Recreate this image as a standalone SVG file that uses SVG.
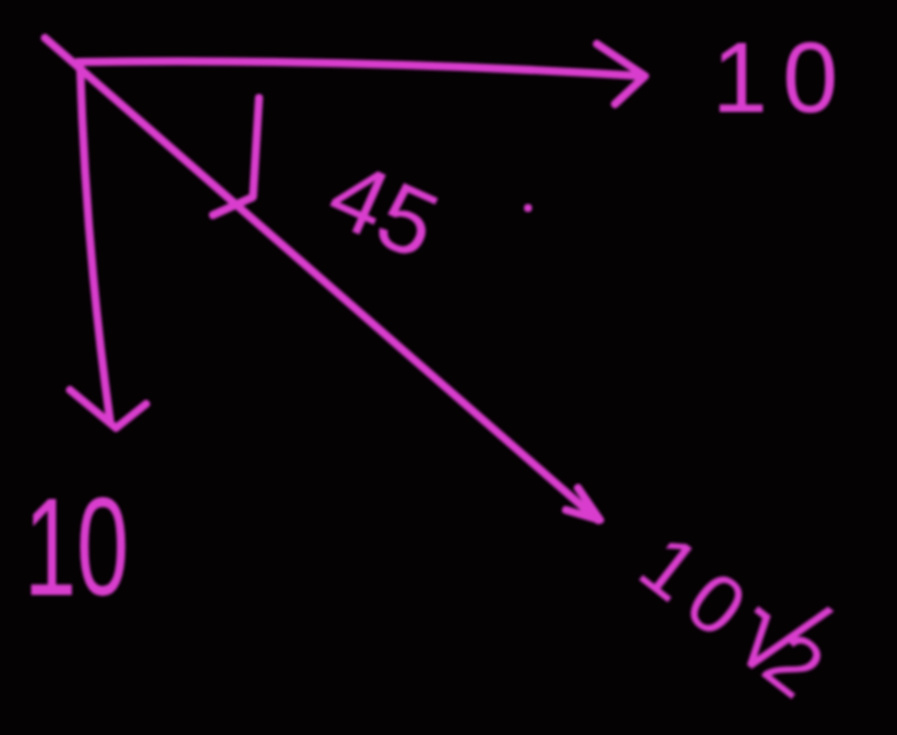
<svg xmlns="http://www.w3.org/2000/svg" width="897" height="735" viewBox="0 0 897 735">
  <defs>
    <filter id="glow" x="-10%" y="-10%" width="120%" height="120%">
      <feGaussianBlur stdDeviation="1.6"/>
    </filter>
    <style>
      .ink { fill: none; stroke: #d93ccd; stroke-width: 8; stroke-linecap: round; stroke-linejoin: round; }
      .lbl { fill: #d93ccd; font-family: "Liberation Sans", "DejaVu Sans", sans-serif; font-weight: normal; }
    </style>
  </defs>
  <rect width="897" height="735" fill="#050204"/>
  <g filter="url(#glow)">
    <g id="connectors">
      <g id="vec-horizontal">
        <path class="ink" d="M78 62 Q 350 58 640 76"/>
        <path class="ink" d="M597 44 L645 76 L615 104"/>
      </g>
      <g id="vec-vertical">
        <path class="ink" d="M80 62 Q 86 250 110 420"/>
        <path class="ink" d="M70 390 L116 428 L146 404"/>
      </g>
      <g id="vec-diagonal">
        <path class="ink" d="M45 38 L598 520"/>
        <path class="ink" d="M578 488 L600 520 L566 510"/>
      </g>
      <g id="angle-mark">
        <path class="ink" d="M259 98 L253 197 L213 215"/>
      </g>
    </g>
    <g id="label-45">
      <text class="lbl" font-size="95" transform="translate(322 218) rotate(24)">45</text>
      <circle cx="528" cy="208" r="4" fill="#d93ccd"/>
    </g>
    <g id="label-10-top">
      <text class="lbl" font-size="100" x="712" y="112" textLength="126" lengthAdjust="spacing">10</text>
    </g>
    <g id="label-10-left">
      <text class="lbl" font-size="140" x="24" y="595" textLength="105" lengthAdjust="spacingAndGlyphs">10</text>
    </g>
    <g id="label-10sqrt2">
      <text class="lbl" font-size="84" transform="translate(634 576) rotate(38)">1<tspan dx="12">0</tspan><tspan dx="8" font-size="120">√</tspan><tspan dx="-22">2</tspan></text>
    </g>
  </g>
</svg>
